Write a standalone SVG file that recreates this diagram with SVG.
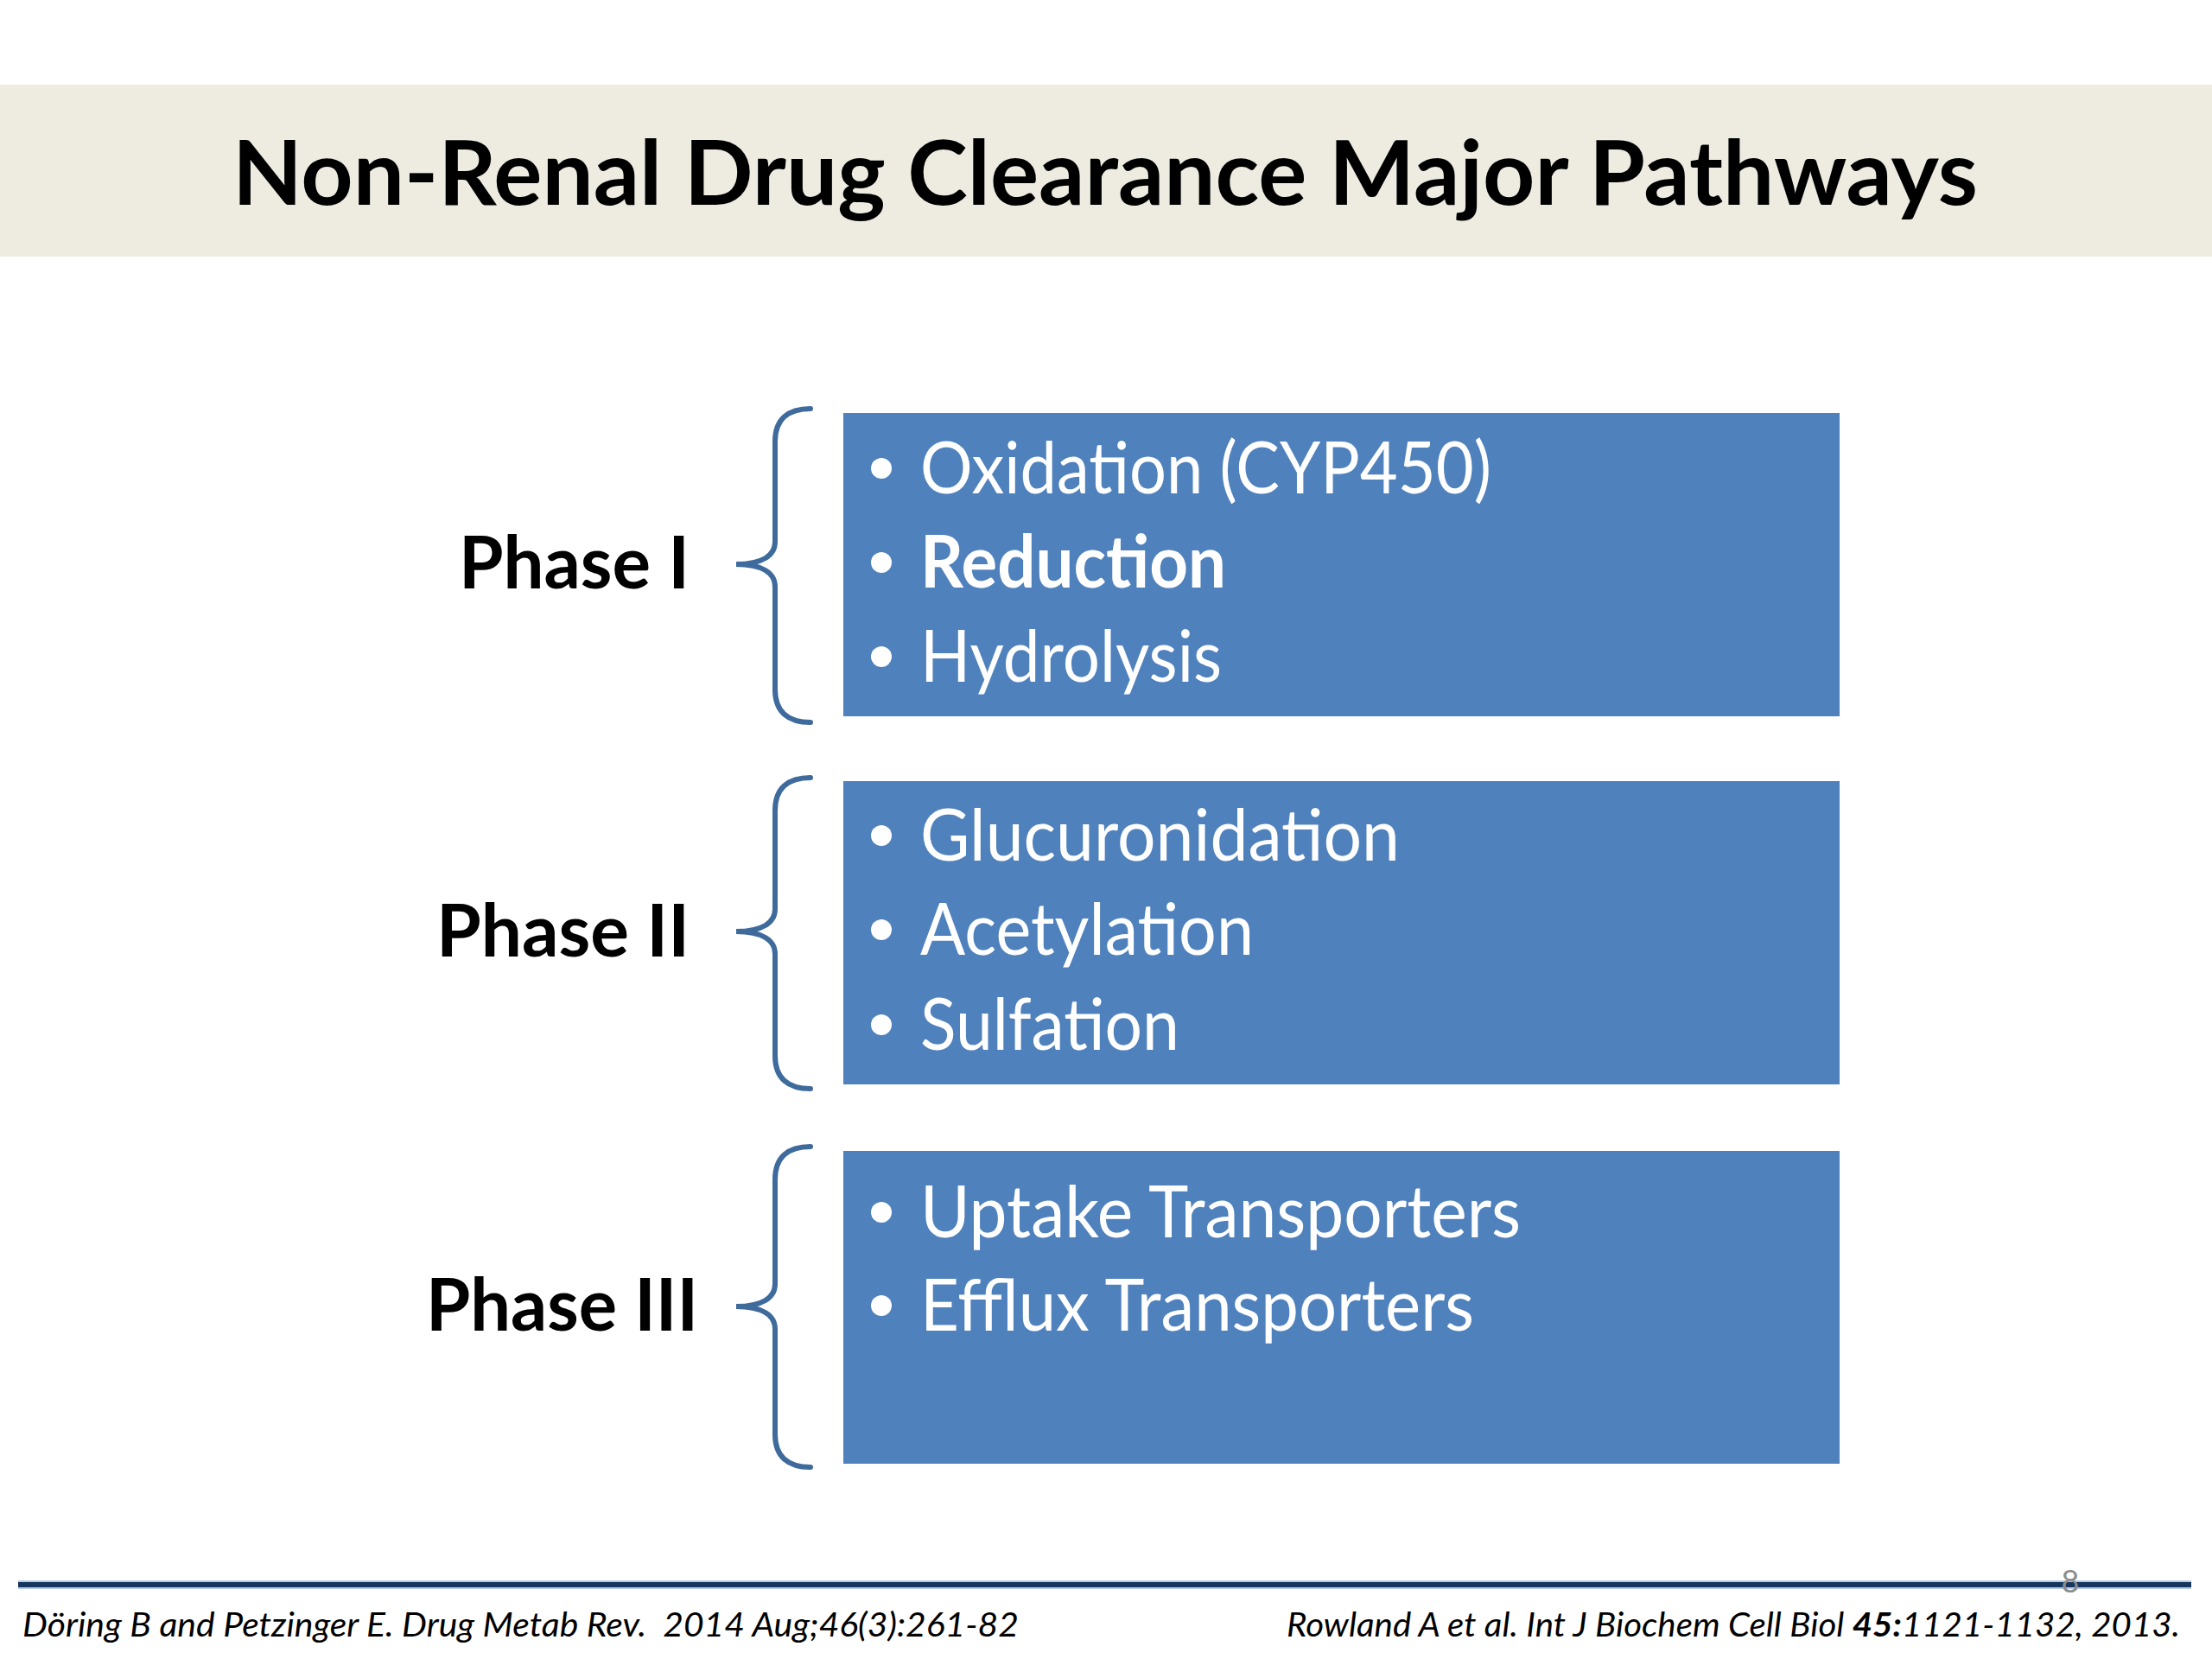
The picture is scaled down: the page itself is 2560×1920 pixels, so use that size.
<svg xmlns="http://www.w3.org/2000/svg" width="2560" height="1920" viewBox="0 0 2560 1920">
<style>
.title{font-family:Lato,"Open Sans","Liberation Sans",sans-serif;font-weight:bold;font-size:104px;fill:#000}
.phase{font-family:Lato,"Open Sans","Liberation Sans",sans-serif;font-weight:bold;font-size:84px;fill:#000;text-anchor:end}
.item{font-family:Lato,"Open Sans","Liberation Sans",sans-serif;font-size:84px;fill:#fff}
.b{font-weight:bold}
.box{fill:#4F81BD}
.dot{fill:#fff}
.brace{fill:none;stroke:#3E6A9C;stroke-width:6;stroke-linecap:round}
.foot{font-family:Lato,"Open Sans","Liberation Sans",sans-serif;font-style:italic;font-size:38px;fill:#000;white-space:pre}
</style>
<rect width="2560" height="1920" fill="#fff"/>
<rect x="0" y="98" width="2560" height="199" fill="#EEECE1"/>
<text class="title" x="269" y="237" textLength="2020" lengthAdjust="spacingAndGlyphs">Non-Renal Drug Clearance Major Pathways</text>

<g id="connectors">
<path id="brace1" class="brace" d="M938,473 C912,473 897,485 897,511 L897,627 C897,643 882,653 852,653 C882,653 897,663 897,679 L897,798 C897,824 912,836 938,836"/>
<path id="brace2" class="brace" d="M938,900 C912,900 897,912 897,938 L897,1052 C897,1068 882,1078 852,1078 C882,1078 897,1088 897,1104 L897,1222 C897,1248 912,1260 938,1260"/>
<path id="brace3" class="brace" d="M938,1327 C912,1327 897,1339 897,1365 L897,1486 C897,1502 882,1512 852,1512 C882,1512 897,1522 897,1538 L897,1660 C897,1686 912,1698 938,1698"/>
</g>

<g id="phase1">
<text class="phase" x="798" y="681" textLength="267" lengthAdjust="spacingAndGlyphs">Phase I</text>
</g>
<g id="phase2">
<text class="phase" x="798" y="1107" textLength="293" lengthAdjust="spacingAndGlyphs">Phase II</text>
</g>
<g id="phase3">
<text class="phase" x="808" y="1540" textLength="315" lengthAdjust="spacingAndGlyphs">Phase III</text>
</g>

<g id="box1">
<rect class="box" x="976" y="478" width="1153" height="351"/>
<circle class="dot" cx="1020" cy="542" r="12"/>
<text class="item" x="1065" y="571" textLength="661" lengthAdjust="spacingAndGlyphs">Oxidation (CYP450)</text>
<circle class="dot" cx="1020" cy="651" r="12"/>
<text class="item b" x="1065" y="680" textLength="354" lengthAdjust="spacingAndGlyphs">Reduction</text>
<circle class="dot" cx="1020" cy="760" r="12"/>
<text class="item" x="1065" y="789" textLength="349" lengthAdjust="spacingAndGlyphs">Hydrolysis</text>
</g>

<g id="box2">
<rect class="box" x="976" y="904" width="1153" height="351"/>
<circle class="dot" cx="1020" cy="967" r="12"/>
<text class="item" x="1065" y="996" textLength="555" lengthAdjust="spacingAndGlyphs">Glucuronidation</text>
<circle class="dot" cx="1020" cy="1076" r="12"/>
<text class="item" x="1065" y="1105" textLength="386" lengthAdjust="spacingAndGlyphs">Acetylation</text>
<circle class="dot" cx="1020" cy="1186" r="12"/>
<text class="item" x="1065" y="1215" textLength="300" lengthAdjust="spacingAndGlyphs">Sulfation</text>
</g>

<g id="box3">
<rect class="box" x="976" y="1332" width="1153" height="362"/>
<circle class="dot" cx="1020" cy="1403" r="12"/>
<text class="item" x="1065" y="1432" textLength="695" lengthAdjust="spacingAndGlyphs">Uptake Transporters</text>
<circle class="dot" cx="1020" cy="1511" r="12"/>
<text class="item" x="1065" y="1540" textLength="641" lengthAdjust="spacingAndGlyphs">Efflux Transporters</text>
</g>

<rect x="21" y="1829" width="2515" height="10" fill="#B8CCE4"/>
<rect x="21" y="1831" width="2515" height="6" fill="#17375E"/>
<text x="2396" y="1843" font-family="Lato,'Open Sans','Liberation Sans',sans-serif" font-size="36" fill="#8C8C8C" text-anchor="middle">8</text>

<text class="foot" x="26" y="1894" textLength="1153" lengthAdjust="spacingAndGlyphs">Döring B and Petzinger E. Drug Metab Rev.  2014 Aug;46(3):261-82</text>
<text class="foot" x="1489" y="1894" textLength="1034" lengthAdjust="spacingAndGlyphs">Rowland A et al. Int J Biochem Cell Biol <tspan font-weight="bold">45:</tspan>1121-1132, 2013.</text>
</svg>
